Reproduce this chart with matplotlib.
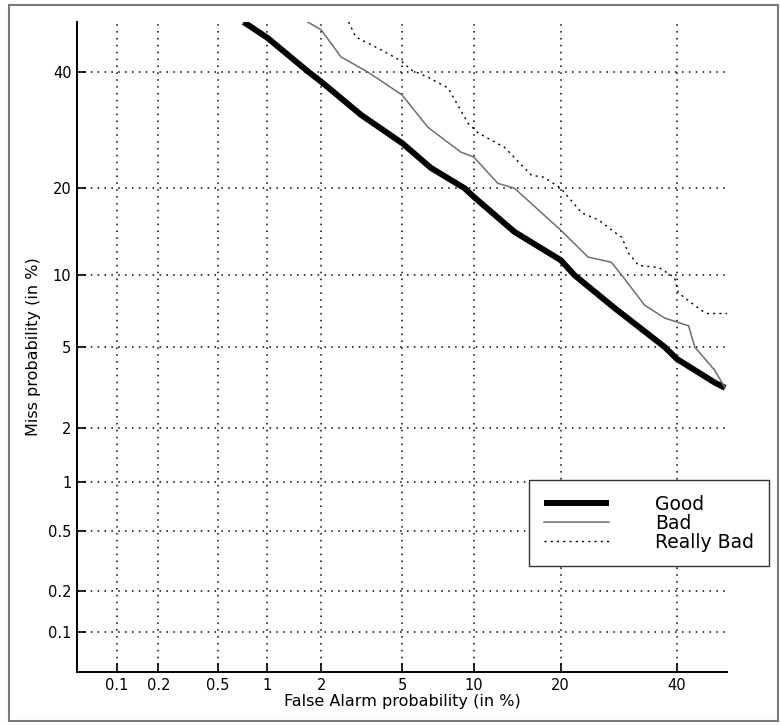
from statistics import NormalDist
import numpy as np
import matplotlib
matplotlib.use("Agg")
import matplotlib.pyplot as plt
from matplotlib.patches import Rectangle

# DET curves, values in percent
good_fa = [0.72, 1.0, 1.71, 2.0, 3.2, 5.0, 6.7, 9.2, 10.0, 14.1, 20.0, 22.0, 28.4, 37.6, 40.0, 47.5, 49.6]
good_miss = [50.0, 46.8, 40.0, 38.1, 31.9, 27.0, 23.0, 20.0, 18.8, 14.4, 11.4, 10.0, 7.4, 5.0, 4.4, 3.4, 3.2]

bad_fa = [1.69, 2.0, 2.53, 3.45, 5.0, 6.5, 8.9, 10.0, 12.3, 14.1, 20.0, 24.1, 27.9, 29.7, 33.8, 37.6, 42.3, 43.5, 47.5, 49.6]
bad_miss = [50.0, 48.4, 43.0, 40.0, 35.6, 29.7, 25.5, 24.7, 20.7, 20.0, 14.6, 11.7, 11.2, 10.0, 7.6, 6.7, 6.2, 5.0, 3.9, 3.2]

rbad_fa = [2.77, 3.01, 3.99, 4.95, 5.5, 6.5, 7.9, 9.5, 10.4, 13.0, 16.1, 17.7, 20.0, 23.1, 25.8, 29.2, 29.7,
           30.9, 32.7, 36.5, 39.5, 40.3, 44.9, 45.9, 50.0]
rbad_miss = [50.0, 47.0, 44.4, 42.2, 40.4, 39.0, 36.9, 30.4, 28.7, 26.3, 21.9, 21.6, 20.0, 16.7, 15.8, 14.0, 13.8,
             12.1, 10.9, 10.7, 9.8, 8.5, 7.2, 7.0, 7.0]

ticks = [0.1, 0.2, 0.5, 1, 2, 5, 10, 20, 40]
tick_labels = ['0.1', '0.2', '0.5', '1', '2', '5', '10', '20', '40']

nd = NormalDist()
_ppf = np.vectorize(nd.inv_cdf, otypes=[float])
_cdf = np.vectorize(nd.cdf, otypes=[float])


def fwd(p):
    p = np.clip(np.asarray(p, dtype=float) / 100.0, 1e-9, 1 - 1e-9)
    return _ppf(p)


def inv(z):
    return _cdf(np.asarray(z, dtype=float)) * 100.0


plt.rcParams['font.family'] = 'DejaVu Sans'

fig = plt.figure(figsize=(7.8, 7.25), dpi=100)
ax = fig.add_axes([77 / 780, 53 / 725, 650 / 780, 650 / 725])
ax.set_xscale('function', functions=(fwd, inv))
ax.set_yscale('function', functions=(fwd, inv))
ax.set_xlim(0.05, 50)
ax.set_ylim(0.05, 50)

ax.plot(good_fa, good_miss, color='black', lw=4.3, label='Good', solid_capstyle='butt')
ax.plot(bad_fa, bad_miss, color='#6e6e6e', lw=1.1, label='Bad')
ax.plot(rbad_fa, rbad_miss, color='black', lw=1.0, linestyle=(0, (1.5, 3)), label='Really Bad')

ax.set_xticks(ticks)
ax.set_xticklabels(tick_labels)
ax.set_yticks(ticks)
ax.set_yticklabels(tick_labels)
ax.minorticks_off()
ax.tick_params(direction='in', length=6.5, width=1.2, labelsize=10.5, colors='black')
ax.tick_params(axis='x', pad=4.5)
ax.tick_params(axis='y', pad=4)

ax.grid(True, color='black', lw=1.1, linestyle=(0, (1, 3.5)))
ax.set_axisbelow(True)

for s in ['top', 'right']:
    ax.spines[s].set_visible(False)
for s in ['left', 'bottom']:
    ax.spines[s].set_linewidth(1.4)

ax.set_xlabel('False Alarm probability (in %)', fontsize=11.5, labelpad=0.5)
ax.set_ylabel('Miss probability (in %)', fontsize=11.5, labelpad=5)

leg = ax.legend(loc='upper left', bbox_to_anchor=(529 / 780, 1 - 480 / 725), bbox_transform=fig.transFigure,
                borderaxespad=0, fontsize=13.5, handlelength=3.5, handletextpad=2.45, borderpad=0.78,
                labelspacing=0.0, fancybox=False, framealpha=1, edgecolor='#333333')
leg.get_frame().set_linewidth(1.0)

fig.patches.append(Rectangle((9 / 780, 4 / 725), 769 / 780, 716 / 725, transform=fig.transFigure,
                             fill=False, edgecolor='#7a7a7a', lw=1.5))

fig.savefig('out.png', dpi=100)
